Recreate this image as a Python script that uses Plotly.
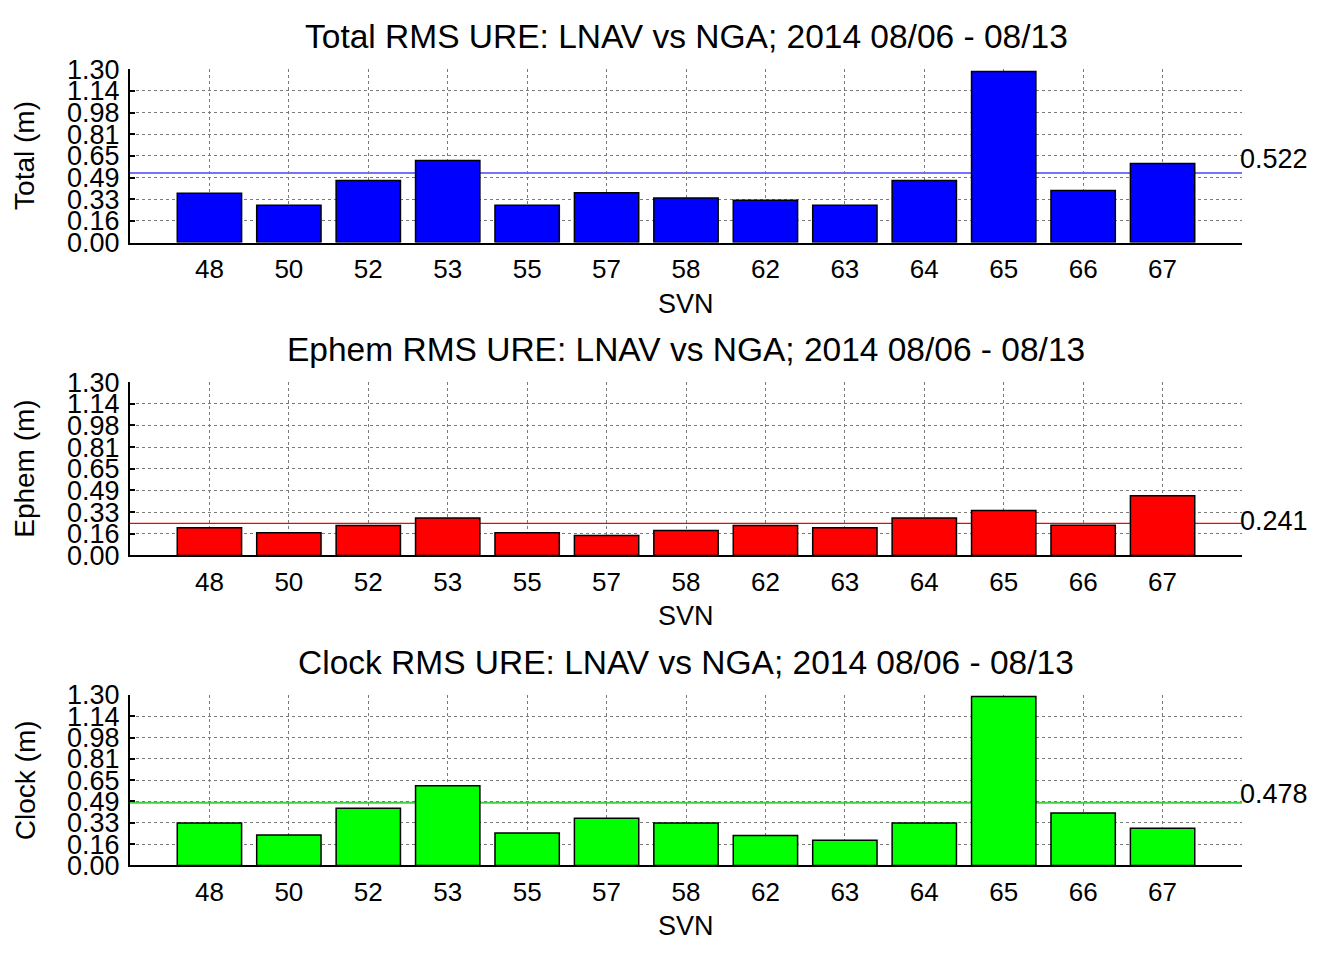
import plotly.graph_objects as go

svn = ["48", "50", "52", "53", "55", "57", "58", "62", "63", "64", "65", "66", "67"]
total = [0.370, 0.281, 0.465, 0.615, 0.281, 0.373, 0.334, 0.317, 0.281, 0.465, 1.283, 0.390, 0.593]
ephem = [0.207, 0.170, 0.224, 0.280, 0.170, 0.149, 0.187, 0.224, 0.207, 0.280, 0.338, 0.226, 0.447]
clock = [0.323, 0.232, 0.436, 0.608, 0.247, 0.360, 0.323, 0.229, 0.192, 0.323, 1.288, 0.399, 0.284]
means = [0.522, 0.241, 0.478]
ytick_vals = [0, 0.1625, 0.325, 0.4875, 0.65, 0.8125, 0.975, 1.1375, 1.3]
ytick_text = ["0.00", "0.16", "0.33", "0.49", "0.65", "0.81", "0.98", "1.14", "1.30"]
titles = ["Total RMS URE: LNAV vs NGA; 2014 08/06 - 08/13",
          "Ephem RMS URE: LNAV vs NGA; 2014 08/06 - 08/13",
          "Clock RMS URE: LNAV vs NGA; 2014 08/06 - 08/13"]
ylabels = ["Total (m)", "Ephem (m)", "Clock (m)"]
xlabel = "SVN"

series = [total, ephem, clock]
colors = ["#0000FF", "#FF0000", "#00FF00"]
line_colors = ["#7373FF", "#FF0000", "#44D044"]
line_widths = [2, 1.2, 2]
label_shift = [14, 2, 9]

W, H = 1317, 955
FONT = "Arial, Liberation Sans, sans-serif"
# pixel geometry of the panels
px_left, px_right = 130, 1242
panels_px = [(56, 235), (379, 558), (702, 878)]

fig = go.Figure()
layout = dict(
    width=W, height=H,
    margin=dict(l=0, r=0, t=0, b=0),
    paper_bgcolor="white", plot_bgcolor="white",
    showlegend=False,
    font=dict(family=FONT, color="black", size=27),
)
annotations = []
shapes = []
xdom = [px_left / W, px_right / W]
ncat = len(svn)

for i in range(3):
    n = i + 1
    top, bot = panels_px[i]
    ydom = [1 - bot / H, 1 - top / H]
    xa = "x" if n == 1 else f"x{n}"
    ya = "y" if n == 1 else f"y{n}"
    fig.add_trace(go.Bar(
        x=svn, y=series[i], xaxis=xa, yaxis=ya,
        width=0.81,
        marker=dict(color=colors[i], line=dict(color="black", width=1.5)),
    ))
    sfx = "" if n == 1 else str(n)
    layout[f"xaxis{sfx}"] = dict(
        domain=xdom, anchor=ya, type="category", range=[-1, ncat],
        showgrid=True, gridcolor="#7a7a7a", griddash="dot", gridwidth=1,
        showline=True, linecolor="black", linewidth=2,
        ticks="", tickfont=dict(size=26), ticklabelstandoff=2,
        zeroline=False, fixedrange=True,
    )
    layout[f"yaxis{sfx}"] = dict(
        domain=ydom, anchor=xa, range=[0, 1.3],
        tickvals=ytick_vals, ticktext=ytick_text,
        showgrid=True, gridcolor="#7a7a7a", griddash="dot", gridwidth=1,
        showline=True, linecolor="black", linewidth=2,
        ticks="inside", ticklen=5, tickwidth=2, tickcolor="black",
        tickfont=dict(size=27), ticklabelstandoff=3,
        zeroline=False, fixedrange=True,
    )
    # overlay axes for top and right tick marks
    layout[f"xaxis{n + 3}"] = dict(
        overlaying=xa, side="top", anchor=ya, range=[-1, ncat],
        tickvals=list(range(ncat)), ticks="inside", ticklen=4, tickwidth=2,
        tickcolor="black", showticklabels=False, showgrid=False,
        showline=False, zeroline=False, fixedrange=True,
    )
    layout[f"yaxis{n + 3}"] = dict(
        overlaying=ya, side="right", anchor=xa, range=[0, 1.3],
        tickvals=ytick_vals, ticks="outside", ticklen=5, tickwidth=2,
        tickcolor="black", showticklabels=False, showgrid=False,
        showline=False, zeroline=False, fixedrange=True,
    )
    # mean line
    shapes.append(dict(
        type="line", xref=f"{xa} domain", yref=ya, x0=0, x1=1,
        y0=means[i], y1=means[i], layer="below",
        line=dict(color=line_colors[i], width=line_widths[i]),
    ))
    annotations.append(dict(
        text=f"{means[i]:.3f}", xref="paper", yref=ya,
        x=px_right / W, y=means[i], xanchor="left", yanchor="middle",
        xshift=-4, yshift=label_shift[i], showarrow=False, font=dict(size=27),
    ))
    # title
    annotations.append(dict(
        text=titles[i], xref="paper", yref="paper",
        x=686 / W, y=1 - (top - 34) / H, xanchor="center", yanchor="middle",
        showarrow=False, font=dict(size=33.5),
    ))
    # y label
    annotations.append(dict(
        text=ylabels[i], xref="paper", yref="paper",
        x=25 / W, y=1 - ((top + bot) / 2) / H, xanchor="center", yanchor="middle",
        textangle=-90, showarrow=False, font=dict(size=28),
    ))
    # x label
    annotations.append(dict(
        text=xlabel, xref="paper", yref="paper",
        x=686 / W, y=1 - (bot + 63) / H, xanchor="center", yanchor="middle",
        showarrow=False, font=dict(size=27),
    ))

layout["annotations"] = annotations
layout["shapes"] = shapes
fig.update_layout(**layout)
fig.write_html(
    "out.html",
    config={"displayModeBar": False},
    post_script="document.body.style.margin='0';document.body.style.overflow='hidden';",
)
